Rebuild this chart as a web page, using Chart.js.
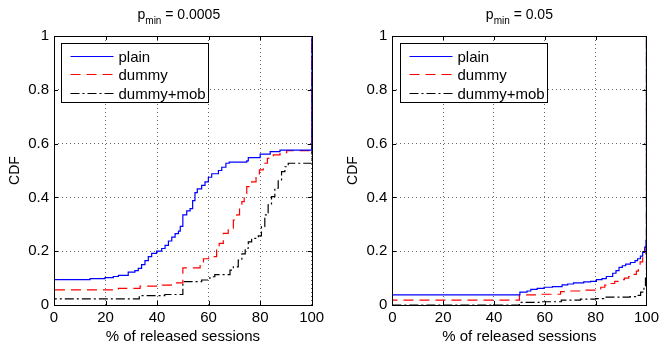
<!DOCTYPE html>
<html>
<head>
<meta charset="utf-8">
<script src="https://cdn.jsdelivr.net/npm/chart.js@4/dist/chart.umd.min.js"></script>
<style>
  html, body { margin: 0; padding: 0; background: #fff; }
  #wrap { position: relative; width: 663px; height: 348px; }
  canvas { position: absolute; top: 0; }
</style>
</head>
<body>
<div id="wrap">
  <canvas id="left" width="331" height="348" style="left:0px"></canvas>
  <canvas id="right" width="325" height="348" style="left:338px"></canvas>
</div>
<script>
// ---- data (x = % of released sessions, y = CDF), step values hold from x onward ----
var seriesNames = ['plain', 'dummy', 'dummy+mob'];
var xTicks = [0, 20, 40, 60, 80, 100];
var yTicks = [0, 0.2, 0.4, 0.6, 0.8, 1];

// p_min = 0.0005
var leftPlainX = [0, 0, 14, 19.8, 23, 25, 28.8, 31.4, 32.7, 34, 35.3, 36.6, 37.9, 39.8, 41.8, 43.1, 44.4, 45.7, 47, 48.3, 49, 50, 51.5, 52.8, 53.8, 54.7, 55.6, 57.3, 58.6, 59.9, 61.2, 63.8, 65.1, 66.7, 68, 74.8, 75.4, 80, 83.9, 87.7, 100, 100];
var leftPlainY = [0, 0.094, 0.098, 0.102, 0.106, 0.11, 0.122, 0.128, 0.136, 0.15, 0.165, 0.18, 0.192, 0.2, 0.21, 0.222, 0.238, 0.252, 0.265, 0.275, 0.292, 0.335, 0.35, 0.358, 0.388, 0.418, 0.432, 0.445, 0.458, 0.475, 0.488, 0.5, 0.512, 0.527, 0.531, 0.536, 0.548, 0.561, 0.57, 0.576, 0.578, 1];
var leftDummyX = [0, 0, 25, 33.4, 42, 45.5, 50, 56.7, 58, 60, 63.1, 64.1, 65.7, 67.6, 69.6, 70.9, 72, 72.9, 73.8, 74.8, 76.7, 78.4, 79.7, 81.2, 82.8, 85.1, 87.7, 90.3, 100, 100];
var leftDummyY = [0, 0.056, 0.062, 0.07, 0.074, 0.082, 0.138, 0.16, 0.172, 0.18, 0.204, 0.229, 0.266, 0.285, 0.316, 0.335, 0.359, 0.384, 0.415, 0.44, 0.458, 0.477, 0.502, 0.527, 0.545, 0.558, 0.566, 0.574, 0.574, 1];
var leftMobX = [0, 0, 33.1, 43, 50, 57.3, 60.5, 62.4, 68.3, 69.6, 71.5, 72.9, 74.2, 75.4, 76.7, 79.3, 80.5, 81.8, 83.1, 84.4, 85.7, 87, 88.3, 89.6, 90.9, 100, 100];
var leftMobY = [0, 0.023, 0.035, 0.039, 0.087, 0.093, 0.105, 0.113, 0.13, 0.142, 0.167, 0.19, 0.211, 0.235, 0.248, 0.257, 0.291, 0.335, 0.372, 0.403, 0.434, 0.465, 0.496, 0.514, 0.527, 0.527, 1];

// p_min = 0.05
var rightPlainX = [0, 0, 50.2, 53, 54.5, 57, 59.7, 63, 66.8, 69, 71.3, 75.3, 78, 80.3, 82.5, 84.2, 86.7, 88, 89.2, 90.5, 91.8, 93.7, 95.5, 96.5, 97.6, 98.5, 99.3, 99.8, 100, 100];
var rightPlainY = [0, 0.038, 0.048, 0.052, 0.058, 0.062, 0.066, 0.068, 0.075, 0.078, 0.082, 0.086, 0.088, 0.094, 0.098, 0.106, 0.118, 0.128, 0.14, 0.146, 0.152, 0.158, 0.165, 0.172, 0.182, 0.196, 0.215, 0.24, 0.25, 1];
var rightDummyX = [0, 0, 50, 58, 66.2, 70, 75.3, 79.8, 82, 83.6, 86, 87.5, 89.5, 91.3, 93, 94.6, 96, 96.8, 97.5, 98.5, 99.4, 99.8, 100, 100];
var rightDummyY = [0, 0.018, 0.038, 0.04, 0.05, 0.052, 0.055, 0.06, 0.066, 0.074, 0.08, 0.088, 0.094, 0.1, 0.106, 0.114, 0.126, 0.14, 0.16, 0.178, 0.19, 0.215, 0.225, 1];
var rightMobX = [0, 50, 58, 66.5, 74, 80, 83.2, 93.5, 95.7, 97.7, 99, 99.6, 100, 100];
var rightMobY = [0, 0.01, 0.012, 0.018, 0.022, 0.024, 0.029, 0.031, 0.036, 0.048, 0.07, 0.1, 0.12, 1];

var FONT = "'Liberation Sans', Arial, Helvetica, sans-serif";

function pts(xs, ys) {
    return xs.map(function (x, i) { return { x: x, y: ys[i] }; });
}

// frame, inward ticks, title, axis titles and a boxed legend (MATLAB look)
var matlabLook = {
    id: 'matlabLook',
    afterDatasetsDraw: function (chart, args, opts) {
        var ctx = chart.ctx, a = chart.chartArea;
        var sx = chart.scales.x, sy = chart.scales.y;
        ctx.save();
        ctx.strokeStyle = '#000';
        ctx.lineWidth = 1;
        ctx.setLineDash([]);
        ctx.beginPath();
        xTicks.forEach(function (t) {
            var px = Math.round(sx.getPixelForValue(t)) + 0.5;
            ctx.moveTo(px, a.bottom); ctx.lineTo(px, a.bottom - 4);
            ctx.moveTo(px, a.top); ctx.lineTo(px, a.top + 4);
        });
        yTicks.forEach(function (t) {
            var py = Math.round(sy.getPixelForValue(t)) + 0.5;
            ctx.moveTo(a.left, py); ctx.lineTo(a.left + 4, py);
            ctx.moveTo(a.right, py); ctx.lineTo(a.right - 4, py);
        });
        ctx.stroke();
        ctx.strokeRect(Math.round(a.left) + 0.5, Math.round(a.top) + 0.5,
            Math.round(a.right - a.left), Math.round(a.bottom - a.top));

        // legend
        var bx = Math.round(a.left + opts.legendDx) + 0.5, by = Math.round(a.top + 7) + 0.5;
        ctx.fillStyle = '#fff';
        ctx.fillRect(bx, by, 147, 59);
        ctx.strokeRect(bx, by, 147, 59);
        ctx.font = '15px ' + FONT;
        ctx.textBaseline = 'alphabetic';
        ctx.textAlign = 'left';
        chart.data.datasets.forEach(function (ds, i) {
            var ly = Math.round(by + 12 + i * 18.5) + 0.5;
            ctx.strokeStyle = ds.borderColor;
            ctx.lineWidth = ds.borderWidth;
            ctx.setLineDash(ds.borderDash || []);
            ctx.beginPath();
            ctx.moveTo(bx + 9, ly); ctx.lineTo(bx + 52, ly);
            ctx.stroke();
            ctx.setLineDash([]);
            ctx.fillStyle = '#000';
            ctx.fillText(ds.label, bx + 57, ly + 5);
        });

        // title with subscript
        var cx = (a.left + a.right) / 2;
        ctx.fillStyle = '#000';
        ctx.textBaseline = 'alphabetic';
        ctx.font = '14px ' + FONT;
        var w1 = ctx.measureText('p').width;
        var w3 = ctx.measureText(' = ' + opts.pmin).width;
        ctx.font = '10px ' + FONT;
        var w2 = ctx.measureText('min').width;
        var x0 = cx - (w1 + w2 + w3) / 2 - opts.titleShift;
        ctx.font = '14px ' + FONT;
        ctx.fillText('p', x0, 19);
        ctx.fillText(' = ' + opts.pmin, x0 + w1 + w2, 19);
        ctx.font = '10px ' + FONT;
        ctx.fillText('min', x0 + w1, 23.5);

        // axis titles
        ctx.font = '15px ' + FONT;
        ctx.textAlign = 'center';
        ctx.fillText('% of released sessions', cx, 341);
        ctx.font = '14px ' + FONT;
        ctx.textBaseline = 'middle';
        ctx.translate(a.left - 39, (a.top + a.bottom) / 2);
        ctx.rotate(-Math.PI / 2);
        ctx.fillText('CDF', 0, 0);
        ctx.restore();
    }
};

function makeChart(id, W, plotLeft, plotRight, pmin, legendDx, titleShift, plainXY, dummyXY, mobXY) {
    var ctx = document.getElementById(id).getContext('2d');
    return new Chart(ctx, {
        type: 'line',
        data: {
            datasets: [
                { label: seriesNames[0], data: plainXY, borderColor: '#0000ff', borderWidth: 1.2 },
                { label: seriesNames[1], data: dummyXY, borderColor: '#ff0000', borderWidth: 1.2, borderDash: [10, 6] },
                { label: seriesNames[2], data: mobXY, borderColor: '#000000', borderWidth: 1.2, borderDash: [9, 3, 2, 3] }
            ]
        },
        options: {
            responsive: false,
            animation: false,
            elements: { point: { radius: 0 }, line: { stepped: true, tension: 0 } },
            layout: { padding: { top: 36, right: W - plotRight, bottom: 0, left: 0 } },
            plugins: {
                legend: { display: false },
                tooltip: { enabled: false },
                title: { display: false },
                matlabLook: { pmin: pmin, legendDx: legendDx, titleShift: titleShift }
            },
            scales: {
                x: {
                    type: 'linear', min: 0, max: 100,
                    afterBuildTicks: function (s) { s.ticks = xTicks.map(function (v) { return { value: v }; }); },
                    afterFit: function (s) { s.height = 43; },
                    ticks: { color: '#000', font: { family: FONT, size: 15 }, padding: 4, maxRotation: 0,
                        callback: function (v) { return String(v); } },
                    grid: { color: 'rgba(0,0,0,0.6)', drawTicks: false, lineWidth: 1 },
                    border: { display: false, dash: [1, 3] }
                },
                y: {
                    type: 'linear', min: 0, max: 1,
                    afterBuildTicks: function (s) { s.ticks = yTicks.map(function (v) { return { value: v }; }); },
                    afterFit: function (s) { s.width = plotLeft; },
                    ticks: { color: '#000', font: { family: FONT, size: 15 }, padding: 5,
                        callback: function (v) { return String(v); } },
                    grid: { color: 'rgba(0,0,0,0.6)', drawTicks: false, lineWidth: 1 },
                    border: { display: false, dash: [1, 3] }
                }
            }
        },
        plugins: [matlabLook]
    });
}

makeChart('left', 331, 54, 311.7, '0.0005', 7, 4,
    pts(leftPlainX, leftPlainY), pts(leftDummyX, leftDummyY), pts(leftMobX, leftMobY));
makeChart('right', 325, 54.3, 313, '0.05', 8, 0,
    pts(rightPlainX, rightPlainY), pts(rightDummyX, rightDummyY), pts(rightMobX, rightMobY));
</script>
</body>
</html>
